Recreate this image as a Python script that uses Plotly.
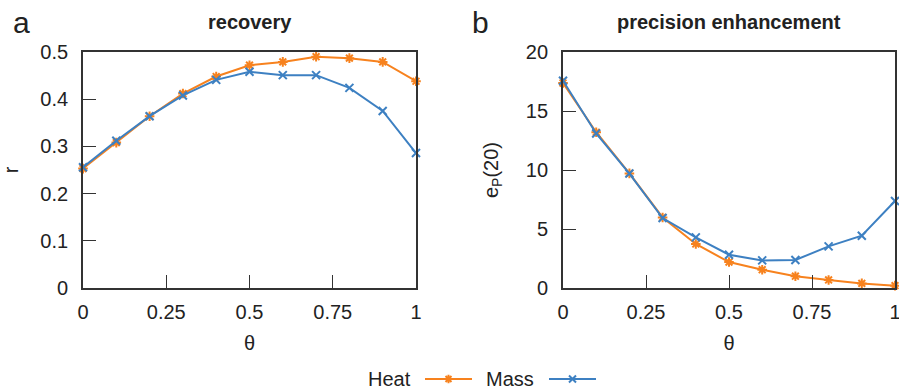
import plotly.graph_objects as go

theta = [0, 0.1, 0.2, 0.3, 0.4, 0.5, 0.6, 0.7, 0.8, 0.9, 1.0]
recovery_heat = [0.253, 0.308, 0.364, 0.412, 0.448, 0.472, 0.479, 0.490, 0.487, 0.479, 0.438]
recovery_mass = [0.256, 0.312, 0.364, 0.408, 0.441, 0.458, 0.451, 0.451, 0.424, 0.375, 0.286]
prec_heat = [17.37, 13.2, 9.71, 5.98, 3.73, 2.2, 1.55, 1.0, 0.68, 0.39, 0.2]
prec_mass = [17.57, 13.1, 9.7, 5.93, 4.29, 2.82, 2.34, 2.37, 3.53, 4.43, 7.37]
x_ticks = [0, 0.25, 0.5, 0.75, 1]
x_ticklabels = ["0", "0.25", "0.5", "0.75", "1"]
ya_ticks = [0, 0.1, 0.2, 0.3, 0.4, 0.5]
ya_ticklabels = ["0", "0.1", "0.2", "0.3", "0.4", "0.5"]
yb_ticks = [0, 5, 10, 15, 20]
series_names = ["Heat", "Mass"]

W, H = 899, 389
ORANGE = "#f7821e"
BLUE = "#3d80c2"
FONT = "Liberation Sans"
AX = "#333333"
TXT = "#222222"

fig = go.Figure()

def add(x, y, color, sym, xa, ya):
    fig.add_trace(go.Scatter(
        x=x, y=y, mode="lines+markers", xaxis=xa, yaxis=ya,
        line=dict(color=color, width=2),
        marker=dict(symbol=sym, size=8, color=color, line=dict(color=color, width=2)),
        cliponaxis=False, showlegend=False))

add(theta, recovery_heat, ORANGE, "asterisk-open", "x", "y")
add(theta, recovery_mass, BLUE, "x-thin-open", "x", "y")
add(theta, prec_heat, ORANGE, "asterisk-open", "x2", "y2")
add(theta, prec_mass, BLUE, "x-thin-open", "x2", "y2")

# legend samples on a hidden axis (units = pixels within legend strip)
for i, (col, sym) in enumerate(zip([ORANGE, BLUE], ["asterisk-open", "x-thin-open"])):
    x0 = 0 if i == 0 else 124
    fig.add_trace(go.Scatter(x=[x0, x0 + 47], y=[0, 0], mode="lines", xaxis="x3", yaxis="y3",
                             line=dict(color=col, width=2), showlegend=False, hoverinfo="skip",
                             cliponaxis=False))
    fig.add_trace(go.Scatter(x=[x0 + 23.5], y=[0], mode="markers", xaxis="x3", yaxis="y3",
                             marker=dict(symbol=sym, size=7, color=col, line=dict(color=col, width=2)),
                             showlegend=False, hoverinfo="skip", cliponaxis=False))

tickfont = dict(family=FONT, size=20, color=TXT)
common_x = dict(range=[0, 1], tickvals=x_ticks, ticktext=x_ticklabels, ticks="inside", ticklen=13,
                tickcolor=AX, tickwidth=1.2, showline=True, linecolor=AX, linewidth=1.8, mirror=True,
                showgrid=False, zeroline=False, tickfont=tickfont, ticklabelstandoff=5, automargin=False,
                ticklabeloverflow="allow",
                title=dict(text="θ", font=dict(family=FONT, size=20, color=TXT), standoff=14))
common_y = dict(ticks="inside", ticklen=13, tickcolor=AX, tickwidth=1.2, showline=True, linecolor=AX,
                linewidth=1.8, mirror=True, showgrid=False, zeroline=False, tickfont=tickfont,
                ticklabelstandoff=9, automargin=False, ticklabeloverflow="allow")

ydom = [(H - 288) / H, (H - 52) / H]
fig.update_layout(
    width=W, height=H,
    margin=dict(l=0, r=0, t=0, b=0),
    paper_bgcolor="white", plot_bgcolor="white",
    xaxis=dict(domain=[83 / W, 416 / W], anchor="y", **common_x),
    xaxis2=dict(domain=[563 / W, 895 / W], anchor="y2", **common_x),
    yaxis=dict(domain=ydom, anchor="x", range=[0, 0.5], tickvals=ya_ticks, ticktext=ya_ticklabels,
               title=dict(text="r", font=dict(family=FONT, size=20, color=TXT), standoff=20),
               **common_y),
    yaxis2=dict(domain=ydom, anchor="x2", range=[0, 20], tickvals=yb_ticks,
                title=dict(text="e<sub>P</sub>(20)", font=dict(family=FONT, size=20, color=TXT), standoff=22),
                **common_y),
    xaxis3=dict(domain=[425 / W, 596 / W], range=[0, 171], visible=False, anchor="y3"),
    yaxis3=dict(domain=[(H - 383) / H, (H - 375) / H], range=[-1, 1], visible=False, anchor="x3"),
    showlegend=False,
)

annots = [
    ("<b>recovery</b>", 249.5, 22, 20),
    ("<b>precision enhancement</b>", 729, 22, 20),
    ("a", 21, 22, 30),
    ("b", 480, 22, 30),
    (series_names[0], 389, 379, 20),
    (series_names[1], 510, 379, 20),
]
for text, px, py, sz in annots:
    fig.add_annotation(xref="paper", yref="paper", xanchor="center", yanchor="middle", showarrow=False,
                       x=px / W, y=1 - py / H, text=text, font=dict(family=FONT, size=sz, color=TXT))

fig.write_html("out.html")
